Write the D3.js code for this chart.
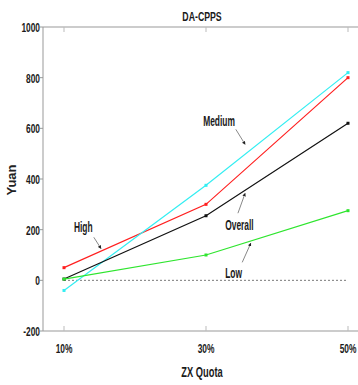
<!DOCTYPE html>
<html>
<head>
<meta charset="utf-8">
<script src="https://cdn.jsdelivr.net/npm/d3@7"></script>
<style>
  body { margin: 0; background: #fff; }
  text { font-family: "Liberation Sans", Arial, sans-serif; font-weight: bold; }
</style>
</head>
<body>
<div id="chart"></div>
<script>
// data
const quotas = [10, 30, 50];
const quotaLabels = ["10%", "30%", "50%"];
const yTicks = [-200, 0, 200, 400, 600, 800, 1000];
const high = [50, 300, 800];
const medium = [-40, 375, 820];
const overall = [5, 255, 620];
const low = [5, 100, 275];

const series = [
  { name: "High", values: high, color: "#ff1f1f" },
  { name: "Medium", values: medium, color: "#33eef2" },
  { name: "Overall", values: overall, color: "#111111" },
  { name: "Low", values: low, color: "#2ee52e" }
];

// labels with arrows (data coordinates)
const notes = [
  { text: "High", tx: 11.4, ty: 190, ax: [14.2, 170], bx: [15.2, 126] },
  { text: "Medium", tx: 29.6, ty: 608, ax: [34.2, 596], bx: [35.5, 537] },
  { text: "Overall", tx: 32.7, ty: 197, ax: [34.5, 265], bx: [35.5, 343] },
  { text: "Low", tx: 32.7, ty: 8, ax: [35.1, 71], bx: [36.3, 146] }
];

const width = 358,
      height = 385;
const svg = d3.select("#chart")
  .append("svg")
    .attr("width", width)
    .attr("height", height);

const x = d3.scaleLinear().domain([10, 50]).range([64, 348]);
const y = d3.scaleLinear().domain([-200, 1000]).range([331, 27]);
const left = 43, right = 372;

// condensed text (no narrow font installed, so squeeze horizontally)
function narrow(g, px, py, txt, size, anchor, sx) {
  return g.append("text")
      .attr("transform", `translate(${px},${py}) scale(${sx},1)`)
      .attr("text-anchor", anchor)
      .style("font-size", size + "px")
      .style("fill", "#1a1a1a")
      .text(txt);
}

svg.append("defs").append("marker")
    .attr("id", "arr")
    .attr("viewBox", "0 0 6 6")
    .attr("refX", 5).attr("refY", 3)
    .attr("markerWidth", 5).attr("markerHeight", 5)
    .attr("orient", "auto")
  .append("path")
    .attr("d", "M0,0L6,3L0,6Z")
    .attr("fill", "#222");

// frame
const frame = svg.append("g").attr("stroke", "#999").attr("stroke-width", 1);
frame.append("line").attr("x1", left).attr("x2", right).attr("y1", y(1000)).attr("y2", y(1000));
frame.append("line").attr("x1", left).attr("x2", right).attr("y1", y(-200)).attr("y2", y(-200));
frame.append("line").attr("x1", left).attr("x2", left).attr("y1", y(1000)).attr("y2", y(-200));

// x ticks top/bottom
quotas.forEach(q => {
  frame.append("line").attr("x1", x(q)).attr("x2", x(q)).attr("y1", y(1000)).attr("y2", y(1000) + 5).attr("stroke", "#bbb");
  frame.append("line").attr("x1", x(q)).attr("x2", x(q)).attr("y1", y(-200)).attr("y2", y(-200) - 5).attr("stroke", "#bbb");
});
yTicks.forEach(t => {
  frame.append("line").attr("x1", left - 3).attr("x2", left).attr("y1", y(t)).attr("y2", y(t));
});

// tick labels
const labels = svg.append("g");
yTicks.forEach(t => narrow(labels, left - 3, y(t) + 5, t, 13.5, "end", 0.62));
quotas.forEach((q, i) => narrow(labels, x(q), 353, quotaLabels[i], 13.5, "middle", 0.62));

// zero line
svg.append("line")
    .attr("x1", x(10)).attr("x2", x(50))
    .attr("y1", y(0)).attr("y2", y(0))
    .attr("stroke", "#555")
    .attr("stroke-dasharray", "2,2")
    .attr("stroke-width", 0.8);

// lines
const line = d3.line().x((d, i) => x(quotas[i])).y(d => y(d));
series.forEach(s => {
  svg.append("path")
      .datum(s.values)
      .attr("d", line)
      .attr("fill", "none")
      .attr("stroke", s.color)
      .attr("stroke-width", 1.2);
  svg.append("g").selectAll("rect")
    .data(s.values)
    .join("rect")
      .attr("x", (d, i) => x(quotas[i]) - 1.5)
      .attr("y", d => y(d) - 1.5)
      .attr("width", 3)
      .attr("height", 3)
      .attr("fill", s.color);
});

// annotations
const ann = svg.append("g");
notes.forEach(n => {
  narrow(ann, x(n.tx), y(n.ty), n.text, 14.5, "start", 0.58);
  ann.append("line")
      .attr("x1", x(n.ax[0])).attr("y1", y(n.ax[1]))
      .attr("x2", x(n.bx[0])).attr("y2", y(n.bx[1]))
      .attr("stroke", "#555")
      .attr("stroke-width", 0.7)
      .attr("marker-end", "url(#arr)");
});

// title and axis titles
narrow(svg, 202, 21, "DA-CPPS", 12.5, "middle", 0.7);
narrow(svg, 202, 377, "ZX Quota", 15, "middle", 0.62);

svg.append("text")
    .attr("transform", "translate(16,180) rotate(-90)")
    .attr("text-anchor", "middle")
    .style("font-size", "13px")
    .style("fill", "#222")
    .text("Yuan");
</script>
</body>
</html>
